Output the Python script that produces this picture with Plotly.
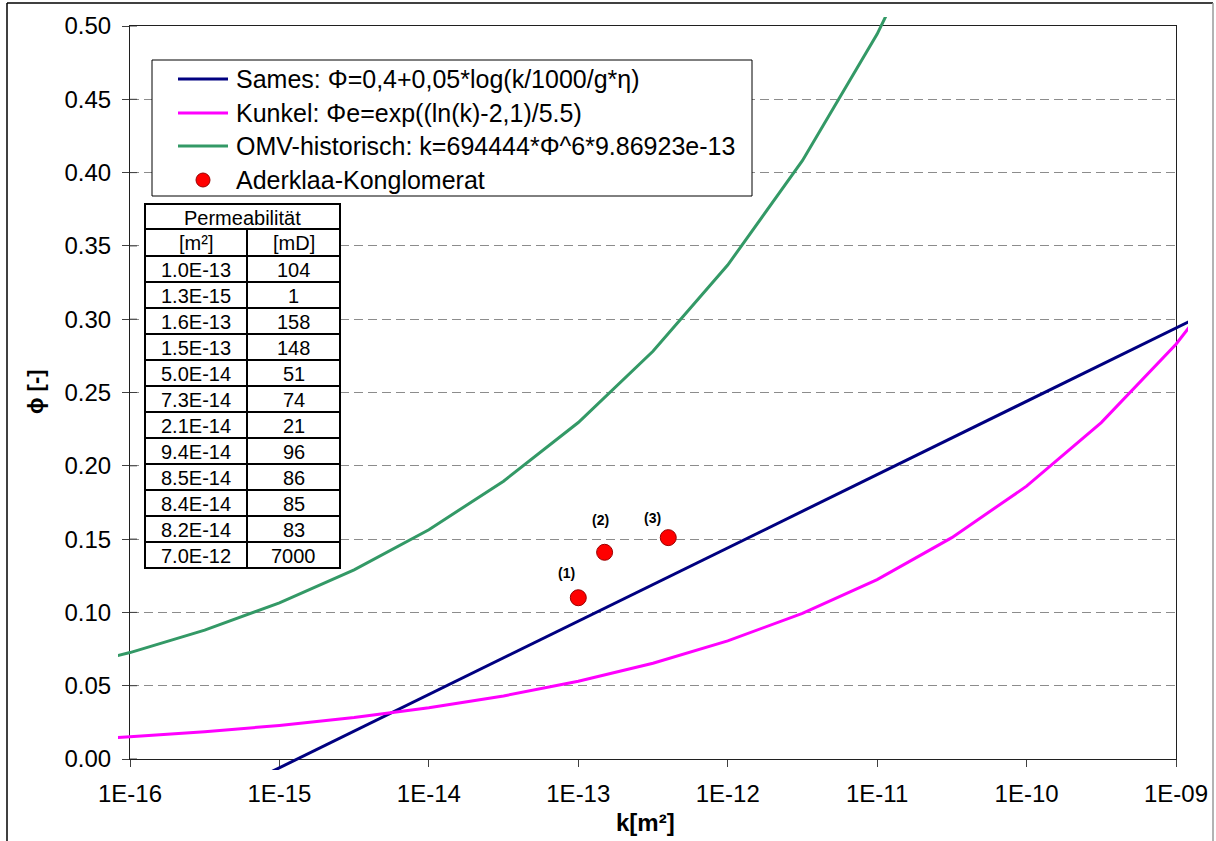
import math
import plotly.graph_objects as go

# ---- data -----------------------------------------------------------------
# permeability grid (m²) at half-decade steps for the model curves
k_grid = [3.16e-17, 1.0e-16, 3.16e-16, 1.0e-15, 3.16e-15, 1.0e-14, 3.16e-14, 1.0e-13,
          3.16e-13, 1.0e-12, 3.16e-12, 1.0e-11, 3.16e-11, 1.0e-10, 3.16e-10, 1.0e-09, 3.16e-09]
phi_sames = [-0.081, -0.056, -0.031, -0.006, 0.019, 0.044, 0.069, 0.094, 0.119,
             0.144, 0.169, 0.194, 0.219, 0.244, 0.269, 0.294, 0.319]
phi_kunkel = [0.0123, 0.0151, 0.0186, 0.0229, 0.0283, 0.0349, 0.0430, 0.0530, 0.0653,
              0.0806, 0.0993, 0.1224, 0.1510, 0.1861, 0.2295, 0.2829, 0.3488]
phi_omv = [0.0600, 0.0726, 0.0879, 0.1065, 0.1290, 0.1564, 0.1895, 0.2295, 0.2781,
           0.3369, 0.4081, 0.4945, 0.5991, 0.7258, 0.8794, 1.0654, 1.2907]

# measured samples
k_aderklaa = [1.0e-13, 1.5e-13, 4.0e-13]
phi_aderklaa = [0.110, 0.141, 0.151]
labels_aderklaa = ["(1)", "(2)", "(3)"]

# permeability table
table_m2 = ["1.0E-13", "1.3E-15", "1.6E-13", "1.5E-13", "5.0E-14", "7.3E-14",
            "2.1E-14", "9.4E-14", "8.5E-14", "8.4E-14", "8.2E-14", "7.0E-12"]
table_md = ["104", "1", "158", "148", "51", "74", "21", "96", "86", "85", "83", "7000"]

legend_names = ["Sames: Φ=0,4+0,05*log(k/1000/g*η)",
                "Kunkel: Φe=exp((ln(k)-2,1)/5.5)",
                "OMV-historisch: k=694444*Φ^6*9.86923e-13",
                "Aderklaa-Konglomerat"]

x_tick_vals = [1e-16, 1e-15, 1e-14, 1e-13, 1e-12, 1e-11, 1e-10, 1e-09]
x_tick_text = ["1E-16", "1E-15", "1E-14", "1E-13", "1E-12", "1E-11", "1E-10", "1E-09"]
y_tick_vals = [0.0, 0.05, 0.10, 0.15, 0.20, 0.25, 0.30, 0.35, 0.40, 0.45, 0.50]

# ---- geometry (pixels) -----------------------------------------------------
W, H = 1216, 841
PL, PR, PT, PB = 130, 1176, 26, 759      # framed plot area
CL, CR, CT, CB = 118, 1188, 17, 770      # region where curves may be drawn
XMIN, XMAX, YMIN, YMAX = -16.0, -9.0, 0.0, 0.5

dec_per_px = (XMAX - XMIN) / (PR - PL)
val_per_px = (YMAX - YMIN) / (PB - PT)


def fx(p):
    return (p - CL) / (CR - CL)


def fy(p):
    return (CB - p) / (CB - CT)


FONT = "Liberation Sans, Arial, sans-serif"
NAVY, MAGENTA, GREEN = "#000080", "#FF00FF", "#339966"
colors = [NAVY, MAGENTA, GREEN]

fig = go.Figure()

# model curves on a slightly wider, hidden axis pair so they run a little past the frame
for phis, col in zip([phi_sames, phi_kunkel, phi_omv], colors):
    fig.add_trace(go.Scatter(x=k_grid, y=phis, mode="lines", xaxis="x2", yaxis="y2",
                             line=dict(color=col, width=3), showlegend=False, hoverinfo="skip"))

fig.add_trace(go.Scatter(x=k_aderklaa, y=phi_aderklaa, mode="markers", xaxis="x2", yaxis="y2",
                         marker=dict(color="#FF0000", size=16,
                                     line=dict(color="#990000", width=1)),
                         cliponaxis=False, showlegend=False))

label_shift = [(-12, 25), (-4, 32), (-16, 20)]
annotations = []
for k, p, t, (dx, dy) in zip(k_aderklaa, phi_aderklaa, labels_aderklaa, label_shift):
    annotations.append(dict(x=math.log10(k), y=p, xref="x2", yref="y2", text="<b>%s</b>" % t,
                            showarrow=False, xshift=dx, yshift=dy,
                            xanchor="center", yanchor="middle",
                            font=dict(family=FONT, size=14, color="#000000")))

shapes = []

# tick marks reaching into the plot from the left axis
for v in y_tick_vals:
    shapes.append(dict(type="line", xref="x domain", yref="y", x0=0, x1=7 / (PR - PL), y0=v, y1=v,
                       line=dict(color="#404040", width=1)))

# outer chart frame
shapes.append(dict(type="line", xref="paper", yref="paper", x0=fx(7), x1=fx(7), y0=fy(3), y1=fy(H + 5),
                   line=dict(color="#000000", width=1.5)))
shapes.append(dict(type="line", xref="paper", yref="paper", x0=fx(7), x1=fx(1213), y0=fy(3), y1=fy(3),
                   line=dict(color="#000000", width=1.5)))
shapes.append(dict(type="line", xref="paper", yref="paper", x0=fx(1213), x1=fx(1213), y0=fy(3), y1=fy(H + 5),
                   line=dict(color="#9a9a9a", width=1.5)))

# legend box
LX0, LX1, LY0, LY1 = 152, 752, 60, 196
shapes.append(dict(type="rect", xref="paper", yref="paper", x0=fx(LX0), x1=fx(LX1), y0=fy(LY1), y1=fy(LY0),
                   fillcolor="#FFFFFF", line=dict(color="#000000", width=1), layer="above"))
row_y = [79, 113, 146, 180]
for i, name in enumerate(legend_names):
    if i < 3:
        shapes.append(dict(type="line", xref="paper", yref="paper", x0=fx(178), x1=fx(228),
                           y0=fy(row_y[i]), y1=fy(row_y[i]),
                           line=dict(color=colors[i], width=3), layer="above"))
    else:
        shapes.append(dict(type="circle", xref="paper", yref="paper", x0=fx(196), x1=fx(210),
                           y0=fy(row_y[i] + 7), y1=fy(row_y[i] - 7),
                           fillcolor="#FF0000", line=dict(color="#990000", width=1), layer="above"))
    annotations.append(dict(x=fx(234), y=fy(row_y[i]), xref="paper", yref="paper", text=name,
                            showarrow=False, xanchor="left", yanchor="middle",
                            font=dict(family=FONT, size=25, color="#000000")))

# permeability table
TX0, TXM, TX1 = 145, 247, 340
TY0, TY1, TY2 = 204, 229, 256
ROW_H = 26
TY_END = TY2 + ROW_H * len(table_m2)
shapes.append(dict(type="rect", xref="paper", yref="paper", x0=fx(TX0), x1=fx(TX1), y0=fy(TY_END), y1=fy(TY0),
                   fillcolor="#FFFFFF", line=dict(color="#000000", width=2), layer="above"))
shapes.append(dict(type="line", xref="paper", yref="paper", x0=fx(TXM), x1=fx(TXM), y0=fy(TY_END), y1=fy(TY1),
                   line=dict(color="#000000", width=2), layer="above"))
for yy in [TY1, TY2] + [TY2 + ROW_H * (i + 1) for i in range(len(table_m2) - 1)]:
    shapes.append(dict(type="line", xref="paper", yref="paper", x0=fx(TX0), x1=fx(TX1), y0=fy(yy), y1=fy(yy),
                       line=dict(color="#000000", width=2), layer="above"))

tfont = dict(family=FONT, size=20, color="#000000")


def cell(xc, yc, text):
    return dict(x=fx(xc), y=fy(yc), xref="paper", yref="paper", text=text, showarrow=False,
                xanchor="center", yanchor="middle", font=tfont)


annotations.append(cell((TX0 + TX1) / 2, (TY0 + TY1) / 2 + 1, "Permeabilität"))
annotations.append(cell((TX0 + TXM) / 2, (TY1 + TY2) / 2 + 1, "[m²]"))
annotations.append(cell((TXM + TX1) / 2, (TY1 + TY2) / 2 + 1, "[mD]"))
for i, (a, b) in enumerate(zip(table_m2, table_md)):
    yc = TY2 + ROW_H * i + ROW_H / 2 + 1
    annotations.append(cell((TX0 + TXM) / 2, yc, a))
    annotations.append(cell((TXM + TX1) / 2, yc, b))

# axis titles
annotations.append(dict(x=fx(645), y=fy(822), xref="paper", yref="paper", text="<b>k[m²]</b>",
                        showarrow=False, xanchor="center", yanchor="middle",
                        font=dict(family=FONT, size=24, color="#000000")))
annotations.append(dict(x=fx(35), y=fy(392), xref="paper", yref="paper", text="<b>ϕ [-]</b>",
                        showarrow=False, textangle=-90, xanchor="center", yanchor="middle",
                        font=dict(family=FONT, size=22, color="#000000")))

tick_font = dict(family=FONT, size=24, color="#000000")

fig.update_layout(
    template="none",
    width=W, height=H,
    margin=dict(l=CL, r=W - CR, t=CT, b=H - CB, pad=0, autoexpand=False),
    paper_bgcolor="#FFFFFF", plot_bgcolor="rgba(0,0,0,0)",
    showlegend=False,
    xaxis=dict(type="log", range=[XMIN, XMAX], domain=[fx(PL), fx(PR)], anchor="y",
               tickmode="array", tickvals=x_tick_vals, ticktext=x_tick_text,
               ticks="outside", ticklen=7, tickcolor="#404040", tickwidth=1,
               showline=True, linecolor="#202020", linewidth=1, mirror=True,
               showgrid=False, zeroline=False, tickfont=tick_font, ticklabelstandoff=6,
               automargin=False),
    yaxis=dict(range=[YMIN, YMAX], domain=[fy(PB), fy(PT)], anchor="x",
               tickmode="array", tickvals=y_tick_vals, tickformat=".2f",
               ticks="outside", ticklen=7, tickcolor="#404040", tickwidth=1,
               showline=True, linecolor="#202020", linewidth=1, mirror=True,
               showgrid=True, gridcolor="#8c8c8c", gridwidth=1, griddash="9px,5px",
               zeroline=False, tickfont=tick_font, ticklabelstandoff=6, automargin=False),
    xaxis2=dict(type="log", domain=[0, 1], anchor="y2",
                range=[XMIN - (PL - CL) * dec_per_px, XMAX + (CR - PR) * dec_per_px],
                visible=False, automargin=False),
    yaxis2=dict(domain=[0, 1], anchor="x2",
                range=[YMIN - (CB - PB) * val_per_px, YMAX + (PT - CT) * val_per_px],
                visible=False, automargin=False),
    shapes=shapes,
    annotations=annotations,
)

fig.write_html("out.html")
